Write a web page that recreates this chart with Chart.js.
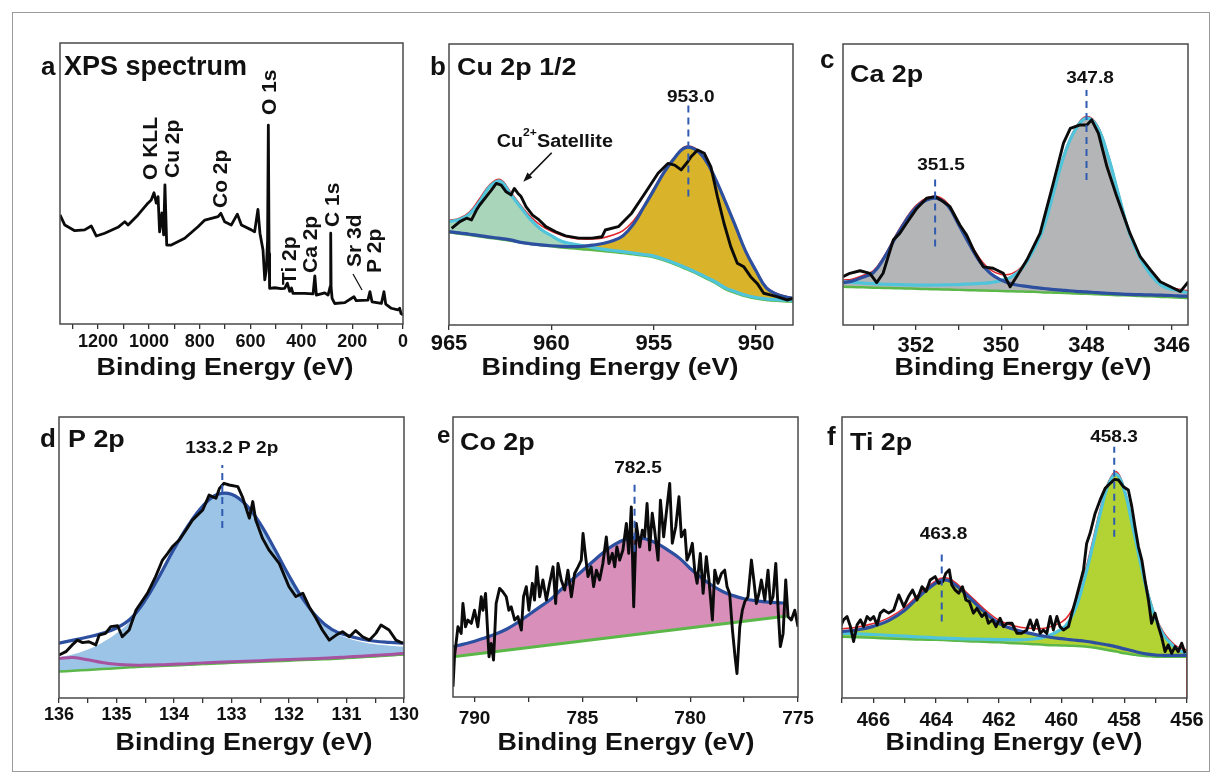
<!DOCTYPE html>
<html>
<head>
<meta charset="utf-8">
<script src="https://cdn.jsdelivr.net/npm/chart.js@4.4.0/dist/chart.umd.min.js"></script>
<style>
    body { margin: 0; background: #fff; width: 1221px; height: 783px; overflow: hidden; position: relative; }
    #frame { position: absolute; left: 12px; top: 12px; width: 1196px; height: 758px; border: 1px solid #9a9a9a; }
    canvas { position: absolute; }
</style>
</head>
<body>
<div id="frame"></div>
<canvas id="pa"></canvas>
<canvas id="pb"></canvas>
<canvas id="pc"></canvas>
<canvas id="pd"></canvas>
<canvas id="pe"></canvas>
<canvas id="pf"></canvas>
<script>
// ---- (a) survey spectrum: [binding energy, intensity] ----
const surveyRaw = [
    [1350,38.8],[1331,35.2],[1292,33.2],[1253,33.5],[1227,34.9],[1207,31.3],[1174,32.3],[1122,34.4],[1095,36.4],[1082,35.2],
    [1043,38.8],[1004,43.0],[991,44.1],[980,46.7],[971,43.0],[964,45.3],[958,32.8],[949,39.5],[942,31.7],[937,49.5],
    [930,28.1],[912,28.1],[859,30.5],[807,34.6],[780,37.0],[754,37.6],[728,38.2],[717,39.4],[702,36.4],[676,35.2],
    [652,39.1],[636,35.2],[597,33.5],[584,32.8],[571,40.8],[563,32.3],[551,26.3],[544,15.7],[538,19.2],[533,30.0],
    [530,70.8],[527,25.0],[525,12.7],[505,12.9],[480,12.6],[466,12.7],[455,14.5],[446,11.6],[439,12.8],[433,10.9],
    [387,10.9],[354,10.7],[347,17.1],[341,10.3],[308,11.1],[295,10.3],[286,13.5],[284.5,32.3],[283,13.0],[279,9.1],
    [269,7.3],[229,7.6],[193,9.7],[184,8.3],[138,8.5],[130,11.5],[122,7.9],[85,7.3],[75,11.5],[68,7.1],
    [46,5.6],[20,5.0],[13,5.6],[8,3.8],[0,3.2]
];

// ---- (b) Cu 2p 1/2 ----
const cuRaw = [
    [964.87,34.4],[964.47,36.8],[964.14,38.0],[963.90,37.4],[963.66,40.9],[963.50,42.7],[963.18,45.7],[962.93,48.0],[962.69,50.4],[962.45,49.8],
    [962.21,47.4],[961.97,46.3],[961.81,48.6],[961.64,46.9],[961.48,45.7],[961.24,42.1],[960.92,39.1],[960.60,37.4],[960.27,35.0],[959.79,33.2],
    [959.31,31.7],[958.66,30.9],[958.01,30.9],[957.53,31.4],[957.37,33.8],[956.73,35.0],[956.08,39.8],[955.43,46.9],[954.79,54.0],[954.31,57.5],
    [953.98,56.9],[953.66,55.2],[953.34,58.1],[953.18,59.9],[952.86,62.3],[952.53,61.1],[952.21,56.3],[951.89,45.7],[951.57,36.2],[951.24,27.9],
    [950.92,22.0],[950.60,20.7],[950.27,17.2],[949.95,14.8],[949.63,11.3],[949.31,10.7],[948.99,10.1],[948.50,8.9],[948.18,9.5]
];
const cuFitEnergy = [965,964.5,964,963.5,963,962.5,962,961.5,961,960.5,960,959.5,959,958.5,958,957.5,957,956.5,956,955.5,955,954.5,954,953.5,953,952.5,952,951.5,951,950.5,950,949.5,949,948.5,948.2];
const cuBackground = [33.0,32.5,32.0,31.5,31.0,30.5,30.0,29.4,28.8,28.4,28.0,27.6,27.3,27.0,26.7,26.3,26.0,25.6,25.2,24.7,24.1,23.0,21.7,20.2,18.6,16.8,15.0,12.8,11.4,10.2,9.4,8.9,8.6,8.4,8.3];
const cuSatellite = [36.8,37.5,39.5,44.0,49.3,51.2,46.6,41.9,37.4,34.0,31.8,29.8,28.9,28.3,27.6,27.0,26.5,26.1,25.6,25.1,24.5,23.4,22.1,20.6,19.0,17.2,15.4,13.2,11.8,10.6,9.8,9.3,9.0,8.8,8.7];
const cuMain = [33.2,32.8,32.3,31.8,31.3,30.8,30.3,29.4,28.9,28.5,28.2,28.0,27.9,28.0,28.4,29.0,30.0,31.8,35.8,41.8,48.0,54.3,59.3,63.0,62.6,59.0,52.2,43.8,35.0,26.0,19.2,13.2,11.0,9.9,9.5];
const cuEnvelope = [37.2,38.0,40.2,45.0,50.0,51.8,47.4,42.6,38.4,35.4,33.3,31.9,31.0,30.6,30.6,31.0,32.0,33.6,37.0,42.2,48.5,54.6,59.5,63.4,63.0,59.2,52.4,44.0,35.2,26.2,19.4,13.4,11.2,10.1,9.7];

// ---- (c) Ca 2p ----
const caRaw = [
    [353.71,17.2],[353.55,18.4],[353.31,19.3],[353.08,18.4],[352.92,15.1],[352.77,18.4],[352.53,30.3],[352.38,32.6],[352.22,36.2],[351.98,41.5],
    [351.75,45.1],[351.55,45.7],[351.36,43.9],[351.20,42.1],[350.97,35.6],[350.81,32.0],[350.65,26.7],[350.42,20.7],[350.19,20.2],[349.95,18.4],
    [349.79,13.6],[349.64,17.2],[349.40,23.1],[349.09,32.6],[348.78,50.4],[348.54,64.7],[348.38,70.0],[348.15,71.2],[347.99,71.2],[347.88,73.0],
    [347.72,68.2],[347.52,56.3],[347.29,45.7],[346.98,32.6],[346.74,24.3],[346.50,19.6],[346.27,15.4],[346.03,13.6],[345.80,11.9],[345.61,15.4]
];
const caFitEnergy = [353.7,353.5,353.25,353,352.75,352.5,352.25,352,351.75,351.5,351.25,351,350.75,350.5,350.25,350,349.75,349.5,349.25,349,348.75,348.5,348.25,348,347.75,347.5,347.25,347,346.75,346.5,346.25,346,345.75,345.6];
const caBackground = [13.6,13.5,13.4,13.3,13.2,13.1,13.0,12.9,12.8,12.7,12.6,12.5,12.4,12.3,12.2,12.1,12.0,11.9,11.8,11.6,11.5,11.4,11.2,11.1,10.9,10.8,10.6,10.5,10.3,10.2,10.0,9.9,9.7,9.6];
const caPeak1 = [15.1,15.6,17.0,18.6,23.8,30.5,36.8,41.8,44.5,45.0,42.4,35.8,28.8,22.5,18.3,16.0,14.6,13.9,13.4,13.0,12.6,12.3,12.0,11.8,11.5,11.3,11.1,10.9,10.8,10.7,10.6,10.5,10.3,10.2];
const caPeak2 = [15.4,15.2,14.9,14.7,14.5,14.4,14.3,14.2,14.2,14.2,14.3,14.4,14.6,14.8,15.1,15.8,17.2,20.4,26.5,35.0,48.5,61.5,69.8,73.6,70.6,60.4,46.5,33.0,24.0,18.0,14.2,12.7,11.9,11.5];
const caEnvelope = [16.0,16.3,17.6,19.3,24.4,31.2,37.5,42.5,45.2,45.7,43.2,36.6,29.8,23.6,19.6,18.0,18.3,21.0,27.0,35.5,49.0,62.0,70.4,74.2,71.2,61.0,47.0,33.5,24.5,18.5,14.8,13.3,12.5,12.1];

// ---- (d) P 2p ----
const pRaw = [
    [136.00,15.3],[135.88,16.5],[135.77,18.9],[135.68,20.6],[135.59,19.7],[135.48,20.0],[135.36,18.9],[135.30,22.4],[135.19,23.0],[135.10,25.4],
    [134.98,25.7],[134.90,21.8],[134.78,24.2],[134.66,31.3],[134.58,33.7],[134.46,37.3],[134.32,43.2],[134.20,49.1],[134.11,51.5],[134.03,53.8],
    [133.91,56.2],[133.79,59.8],[133.68,63.3],[133.50,66.9],[133.39,72.2],[133.27,71.1],[133.21,74.6],[133.13,76.4],[133.04,75.8],[132.89,75.2],
    [132.81,71.6],[132.69,64.0],[132.63,69.9],[132.58,63.4],[132.46,56.8],[132.35,52.7],[132.17,47.9],[132.00,39.6],[131.88,36.1],[131.76,37.3],
    [131.65,32.5],[131.53,28.4],[131.42,24.2],[131.30,20.6],[131.18,22.4],[131.07,23.6],[130.95,21.8],[130.84,24.0],[130.72,21.8],[130.60,20.6],
    [130.49,23.0],[130.40,26.0],[130.26,24.2],[130.14,20.6],[130.02,19.5]
];
const pFitEnergy = [136,135.75,135.5,135.25,135,134.75,134.5,134.25,134,133.75,133.5,133.25,133,132.75,132.5,132.25,132,131.75,131.5,131.25,131,130.75,130.5,130.25,130];
const pEnvelope = [19.5,20.6,21.7,23.0,24.9,28.3,34.8,43.5,53.0,61.5,68.3,72.4,72.5,68.8,62.0,53.0,43.5,35.0,28.5,24.3,22.3,21.0,20.2,19.8,19.5];
const pComponent = [14.5,15.6,17.3,19.7,23.0,27.6,34.6,43.5,53.0,61.5,68.3,72.4,72.5,68.8,62.0,53.0,43.5,35.0,28.2,23.8,21.4,20.0,19.1,18.6,18.3];
const pShirley = [14.1,14.4,13.6,12.6,12.0,11.7,11.7,11.8,12.0,12.2,12.5,12.7,12.9,13.1,13.3,13.5,13.7,13.9,14.1,14.3,14.6,14.9,15.2,15.5,15.9];
const pBaseline = [9.4,9.7,10.0,10.3,10.6,10.9,11.2,11.4,11.6,11.8,12.1,12.3,12.5,12.7,12.9,13.1,13.3,13.5,13.7,13.9,14.2,14.5,14.8,15.1,15.5];

// ---- (e) Co 2p ----
const coRaw = [
    [791.00,3.7],[790.93,14.4],[790.77,25.1],[790.62,22.7],[790.54,33.4],[790.42,25.1],[790.31,27.5],[790.15,26.3],[790.00,31.0],[789.85,25.1],
    [789.69,35.8],[789.61,31.0],[789.49,37.0],[789.33,14.4],[789.23,19.1],[789.12,13.2],[789.00,33.4],[788.84,38.8],[788.69,37.6],[788.53,35.8],
    [788.41,31.0],[788.30,32.2],[788.14,27.5],[787.99,28.7],[787.83,23.9],[787.73,35.8],[787.60,39.4],[787.48,31.0],[787.32,40.6],[787.22,34.6],
    [787.11,46.5],[786.98,35.8],[786.83,41.8],[786.67,34.6],[786.52,40.6],[786.36,46.5],[786.24,33.4],[786.13,47.7],[785.98,41.8],[785.82,38.2],
    [785.67,45.3],[785.51,35.8],[785.36,44.1],[785.20,46.5],[785.05,48.9],[784.97,58.4],[784.85,50.1],[784.74,43.0],[784.59,46.5],[784.48,39.4],
    [784.35,45.3],[784.20,41.8],[784.05,47.7],[783.89,57.2],[783.77,47.7],[783.61,51.3],[783.50,46.5],[783.40,53.6],[783.27,48.9],[783.12,52.5],
    [782.96,62.0],[782.85,51.3],[782.73,67.9],[782.62,32.2],[782.50,62.0],[782.34,53.6],[782.22,59.6],[782.11,57.2],[782.00,69.1],[781.88,52.5],
    [781.76,65.6],[781.65,59.6],[781.49,48.9],[781.38,70.3],[781.23,57.2],[781.11,65.6],[780.95,76.3],[780.83,54.9],[780.67,60.8],[780.52,71.5],
    [780.41,57.2],[780.25,59.6],[780.15,48.9],[780.02,51.3],[779.90,54.9],[779.79,45.3],[779.68,40.6],[779.53,51.3],[779.40,37.0],[779.25,50.1],
    [779.13,41.8],[778.97,27.5],[778.86,45.3],[778.71,40.6],[778.55,44.1],[778.40,45.3],[778.29,39.4],[778.17,37.0],[778.04,23.9],[777.92,14.4],
    [777.83,8.4],[777.70,25.1],[777.58,31.0],[777.47,34.0],[777.32,35.8],[777.16,48.9],[777.05,41.8],[776.93,33.4],[776.81,37.0],[776.70,41.8],
    [776.54,34.6],[776.39,45.3],[776.28,33.4],[776.16,35.8],[776.03,47.7],[775.92,31.0],[775.82,18.0],[775.69,22.7],[775.57,41.8],[775.46,28.7],
    [775.31,27.5],[775.15,31.0],[775.00,25.1]
];
const coFitEnergy = [791,790.5,790,789.5,789,788.5,788,787.5,787,786.5,786,785.5,785,784.5,784,783.5,783,782.5,782,781.5,781,780.5,780,779.5,779,778.5,778,777.5,777,776.5,776,775.5];
const coEnvelope = [18.0,18.9,19.9,21.2,22.6,24.3,26.6,29.3,32.0,34.7,38.3,41.8,45.1,48.5,51.8,54.5,56.3,57.0,56.3,54.7,52.3,49.6,45.9,42.7,39.9,37.7,36.2,35.1,34.4,34.0,33.7,33.5];
const coBgEnergy = [791, 775.5];
const coBackground = [14.4, 28.9];

// ---- (f) Ti 2p ----
const tiRaw = [
    [467.05,25.4],[466.95,27.8],[466.84,29.0],[466.73,25.4],[466.63,20.1],[466.52,26.0],[466.41,27.8],[466.31,25.4],[466.20,29.0],[466.10,27.8],
    [465.99,29.0],[465.88,26.0],[465.78,30.2],[465.67,31.3],[465.51,30.2],[465.35,31.3],[465.19,36.7],[465.03,32.5],[464.88,36.1],[464.75,38.4],
    [464.61,34.9],[464.45,39.6],[464.32,37.9],[464.19,42.0],[464.03,43.2],[463.92,40.8],[463.79,41.4],[463.69,44.4],[463.58,45.6],[463.50,40.2],
    [463.39,38.4],[463.28,37.3],[463.16,39.6],[463.05,34.9],[462.94,34.3],[462.81,30.2],[462.70,31.9],[462.54,29.0],[462.43,30.2],[462.33,26.6],
    [462.20,27.8],[462.09,25.4],[461.96,28.4],[461.85,25.4],[461.74,26.6],[461.58,26.6],[461.42,23.0],[461.27,23.0],[461.11,24.2],[461.00,27.8],
    [460.89,24.2],[460.79,27.8],[460.68,23.0],[460.58,24.2],[460.47,23.0],[460.36,29.0],[460.26,24.2],[460.15,29.0],[460.05,25.4],[459.94,24.2],
    [459.78,25.4],[459.67,30.2],[459.55,34.9],[459.44,39.6],[459.30,45.6],[459.20,55.0],[459.09,58.6],[458.93,65.7],[458.77,70.5],[458.61,74.6],
    [458.45,76.4],[458.31,77.8],[458.19,77.6],[458.03,75.2],[457.87,74.0],[457.76,68.1],[457.66,61.0],[457.55,53.9],[457.44,49.1],[457.34,42.0],
    [457.23,34.9],[457.13,26.6],[457.02,30.2],[456.91,25.4],[456.81,21.8],[456.70,16.5],[456.60,18.9],[456.49,15.9],[456.38,18.3],[456.28,16.5],
    [456.17,19.5],[456.06,15.9]
];
const tiFitEnergy = [467,466.5,466,465.5,465,464.5,464,463.75,463.5,463,462.5,462,461.5,461,460.5,460,459.75,459.5,459.25,459,458.75,458.5,458.25,458,457.75,457.5,457.25,457,456.75,456.5,456.25,456];
const tiBackground = [21.8,21.6,21.4,21.2,21.0,20.8,20.7,20.6,20.5,20.2,20.0,19.8,19.5,19.2,18.9,18.7,18.6,18.5,18.3,18.0,17.5,17.0,16.5,15.9,15.5,15.1,14.9,14.7,14.7,14.7,14.7,14.7];
const tiPeak1 = [23.6,24.3,25.5,27.6,31.2,36.5,41.0,42.0,41.2,36.4,31.0,26.6,24.4,23.0,21.9,21.1,20.8,20.5,20.2,19.8,19.3,18.8,18.2,17.5,16.8,16.1,15.6,15.3,15.2,15.2,15.2,15.2];
const tiPeak2 = [23.0,22.8,22.6,22.3,22.0,21.7,21.4,21.3,21.2,21.0,20.9,20.8,20.7,20.9,21.8,24.5,27.5,33.5,43.2,54.5,66.5,76.2,79.6,74.0,62.0,49.0,37.0,28.2,22.5,19.2,17.0,15.9];
const tiEnvEnergy = tiFitEnergy.concat([456]);
const tiEnvelope = [24.6,25.3,26.5,28.6,32.2,37.4,41.8,42.8,42.0,37.3,32.0,27.7,25.6,24.8,24.9,27.0,29.8,35.5,45.0,56.2,68.0,77.0,80.5,74.6,62.5,50.2,38.0,29.0,23.4,20.0,17.8,16.6,0];

// ---- styling ----
const FONT = '"Liberation Sans", Arial, Helvetica, sans-serif';
const BLACK = '#0b0b0b', NAVY = '#2c4f9f', CYAN = '#4fc4da', RED = '#e3262b', GREEN = '#5bb848', MAGENTA = '#a7529f', DASH = '#2f5bb0';
const M = { l: 50, t: 40, r: 28, b: 70 };

const toPts = (xs, ys) => xs.map((x, i) => ({ x, y: ys[i] }));
const fromPairs = arr => arr.map(p => ({ x: p[0], y: p[1] }));

function line(data, color, width, extra) {
    return Object.assign({
        data, borderColor: color, borderWidth: width, pointRadius: 0,
        tension: 0, fill: false, borderJoinStyle: 'round'
    }, extra || {});
}
function marker(x, y0, y1) {
    return line([{ x, y: y0 }, { x, y: y1 }], DASH, 2, { borderDash: [7, 5], order: -1 });
}
function isMajor(v, major) {
    return Math.abs(v / major - Math.round(v / major)) < 1e-6;
}

function drawText(ctx, off, it) {
    ctx.save();
    ctx.translate(it.x - off.x, it.y - off.y);
    if (it.rot) ctx.rotate(-Math.PI / 2);
    ctx.scale(it.sx || 1, 1);
    ctx.font = 'bold ' + it.size + 'px ' + FONT;
    ctx.textAlign = it.align || 'left';
    ctx.textBaseline = it.base || 'alphabetic';
    ctx.fillStyle = '#111';
    ctx.fillText(it.t, 0, 0);
    ctx.restore();
}

function buildPanel(p) {
    const cv = document.getElementById(p.id);
    const [l, t, r, b] = p.box;
    const W = r - l + M.l + M.r, H = b - t + M.t + M.b;
    cv.width = W; cv.height = H;
    cv.style.left = (l - M.l) + 'px';
    cv.style.top = (t - M.t) + 'px';
    cv.style.width = W + 'px';
    cv.style.height = H + 'px';
    const off = { x: l - M.l, y: t - M.t };

    return new Chart(cv, {
        type: 'line',
        data: { datasets: p.datasets },
        options: {
            responsive: false,
            animation: false,
            devicePixelRatio: 1,
            layout: { padding: { left: M.l, top: M.t, right: M.r, bottom: 0 } },
            plugins: {
                legend: { display: false },
                tooltip: { enabled: false },
                filler: { drawTime: 'beforeDatasetsDraw' }
            },
            scales: {
                x: {
                    type: 'linear',
                    reverse: true,
                    min: p.min,
                    max: p.max,
                    afterFit: s => { s.height = M.b; s.paddingLeft = 0; s.paddingRight = 0; },
                    border: { display: false },
                    grid: { drawOnChartArea: false, drawTicks: true, tickLength: 5, color: '#333', lineWidth: 1.3 },
                    ticks: {
                        stepSize: p.step,
                        includeBounds: false,
                        autoSkip: false,
                        maxRotation: 0,
                        minRotation: 0,
                        padding: p.pad,
                        color: '#111',
                        font: { family: FONT, size: p.tickSize, weight: 'bold' },
                        callback: v => isMajor(v, p.major) ? String(Math.round(v)) : ''
                    }
                },
                y: { display: false, min: 0, max: 100 }
            }
        },
        plugins: [{
            id: 'deco',
            afterDraw(chart) {
                const ctx = chart.ctx;
                const a = chart.chartArea;
                ctx.save();
                ctx.strokeStyle = '#4a4a4a';
                ctx.lineWidth = 1.5;
                ctx.strokeRect(a.left, a.top, a.right - a.left, a.bottom - a.top);
                ctx.restore();
                p.texts.forEach(it => drawText(ctx, off, it));
                if (p.extra) p.extra(ctx, off);
            }
        }]
    });
}

const AX = 'Binding Energy (eV)';

buildPanel({
    id: 'pa', box: [60, 43, 403, 324], min: 0, max: 1350, step: 100, major: 200, tickSize: 18, pad: 2,
    datasets: [line(fromPairs(surveyRaw), BLACK, 2.8, { order: 0 })],
    texts: [
        { t: 'a', x: 41, y: 75, size: 26 },
        { t: 'XPS spectrum', x: 64, y: 75, size: 27 },
        { t: 'O KLL', x: 151.7, y: 180, size: 21, rot: true, base: 'middle' },
        { t: 'Cu 2p', x: 173, y: 178, size: 21, rot: true, base: 'middle' },
        { t: 'Co 2p', x: 221.7, y: 208, size: 21, rot: true, base: 'middle' },
        { t: 'O 1s', x: 270, y: 115, size: 21, rot: true, base: 'middle' },
        { t: 'Ti 2p', x: 290, y: 285, size: 21, rot: true, base: 'middle' },
        { t: 'Ca 2p', x: 311.7, y: 273, size: 21, rot: true, base: 'middle' },
        { t: 'C 1s', x: 333, y: 227, size: 21, rot: true, base: 'middle' },
        { t: 'Sr 3d', x: 355, y: 267, size: 21, rot: true, base: 'middle' },
        { t: 'P 2p', x: 375, y: 273, size: 21, rot: true, base: 'middle' },
        { t: AX, x: 225, y: 375, size: 24, align: 'center', sx: 1.12 }
    ],
    extra(ctx, off) {
        ctx.save();
        ctx.strokeStyle = '#111';
        ctx.lineWidth = 1.3;
        ctx.beginPath();
        ctx.moveTo(353 - off.x, 274 - off.y);
        ctx.lineTo(362 - off.x, 290 - off.y);
        ctx.stroke();
        ctx.restore();
    }
});

buildPanel({
    id: 'pb', box: [449, 44, 793, 325], min: 948.2, max: 965, step: 5, major: 5, tickSize: 22, pad: 1,
    datasets: [
        line(fromPairs(cuRaw), BLACK, 2.9, { order: 0 }),
        line(toPts(cuFitEnergy, cuBackground), GREEN, 2.5, { order: 5, tension: 0.4 }),
        line(toPts(cuFitEnergy, cuSatellite), CYAN, 3.2, { order: 3, tension: 0.4, fill: 1, backgroundColor: '#a9d6bb' }),
        line(toPts(cuFitEnergy, cuMain), NAVY, 3.2, { order: 2, tension: 0.4, fill: 1, backgroundColor: '#d9b42a' }),
        line(toPts(cuFitEnergy, cuEnvelope), RED, 1.5, { order: 4, tension: 0.4 }),
        marker(953.31, 45.7, 78.3)
    ],
    texts: [
        { t: 'b', x: 430, y: 75, size: 26 },
        { t: 'Cu 2p 1/2', x: 457, y: 75, size: 24, sx: 1.12 },
        { t: '953.0', x: 690.7, y: 102, size: 17, align: 'center', sx: 1.12 },
        { t: 'Cu', x: 496.7, y: 147, size: 18, sx: 1.1 },
        { t: '2+', x: 523, y: 136, size: 11, sx: 1.1 },
        { t: 'Satellite', x: 537, y: 147, size: 18, sx: 1.1 },
        { t: AX, x: 610, y: 375, size: 24, align: 'center', sx: 1.12 }
    ],
    extra(ctx, off) {
        const x0 = 551.7 - off.x, y0 = 152.7 - off.y, x1 = 523.3 - off.x, y1 = 181.7 - off.y;
        const ang = Math.atan2(y1 - y0, x1 - x0);
        ctx.save();
        ctx.strokeStyle = '#111';
        ctx.fillStyle = '#111';
        ctx.lineWidth = 1.6;
        ctx.beginPath();
        ctx.moveTo(x0, y0);
        ctx.lineTo(x1 - 6 * Math.cos(ang), y1 - 6 * Math.sin(ang));
        ctx.stroke();
        ctx.beginPath();
        ctx.moveTo(x1, y1);
        ctx.lineTo(x1 - 10 * Math.cos(ang - 0.35), y1 - 10 * Math.sin(ang - 0.35));
        ctx.lineTo(x1 - 10 * Math.cos(ang + 0.35), y1 - 10 * Math.sin(ang + 0.35));
        ctx.closePath();
        ctx.fill();
        ctx.restore();
    }
});

buildPanel({
    id: 'pc', box: [843, 44, 1188, 325], min: 345.62, max: 353.71, step: 1, major: 2, tickSize: 22, pad: 3,
    datasets: [
        line(fromPairs(caRaw), BLACK, 2.9, { order: 0 }),
        line(toPts(caFitEnergy, caBackground), GREEN, 2.5, { order: 5, tension: 0.4 }),
        line(toPts(caFitEnergy, caPeak1), NAVY, 3.2, { order: 2, tension: 0.4, fill: 1, backgroundColor: '#b4b5b7' }),
        line(toPts(caFitEnergy, caPeak2), CYAN, 3.2, { order: 3, tension: 0.4, fill: 1, backgroundColor: '#b4b5b7' }),
        line(toPts(caFitEnergy, caEnvelope), RED, 1.5, { order: 4, tension: 0.4 }),
        marker(351.55, 27.9, 53.4),
        marker(348.0, 51.6, 83.6)
    ],
    texts: [
        { t: 'c', x: 820, y: 68, size: 26 },
        { t: 'Ca 2p', x: 850, y: 82, size: 24, sx: 1.12 },
        { t: '347.8', x: 1090, y: 83, size: 17, align: 'center', sx: 1.12 },
        { t: '351.5', x: 941, y: 170, size: 17, align: 'center', sx: 1.12 },
        { t: AX, x: 1023, y: 375, size: 24, align: 'center', sx: 1.12 }
    ]
});

buildPanel({
    id: 'pd', box: [59, 417, 404, 698], min: 130, max: 136, step: 0.5, major: 1, tickSize: 18, pad: 1,
    datasets: [
        line(fromPairs(pRaw), BLACK, 2.9, { order: 0 }),
        line(toPts(pFitEnergy, pBaseline), GREEN, 2.5, { order: 5, tension: 0.4 }),
        line(toPts(pFitEnergy, pComponent), 'rgba(0,0,0,0)', 0, { order: 6, tension: 0.4, fill: 1, backgroundColor: '#9cc4e7' }),
        line(toPts(pFitEnergy, pShirley), MAGENTA, 3, { order: 4, tension: 0.4 }),
        line(toPts(pFitEnergy, pEnvelope), NAVY, 3.2, { order: 2, tension: 0.4 }),
        marker(133.16, 60.5, 82.9)
    ],
    texts: [
        { t: 'd', x: 40, y: 447, size: 26 },
        { t: 'P 2p', x: 68, y: 447, size: 24, sx: 1.12 },
        { t: '133.2 P 2p', x: 231.7, y: 453, size: 17, align: 'center', sx: 1.12 },
        { t: AX, x: 244, y: 750, size: 24, align: 'center', sx: 1.12 }
    ]
});

buildPanel({
    id: 'pe', box: [453, 417, 798, 697], min: 775, max: 791, step: 2.5, major: 5, tickSize: 19, pad: 5,
    datasets: [
        line(fromPairs(coRaw), BLACK, 2.9, { order: 0 }),
        line(toPts(coBgEnergy, coBackground), GREEN, 3, { order: 5 }),
        line(toPts(coFitEnergy, coEnvelope), NAVY, 3.2, { order: 2, tension: 0.4, fill: 1, backgroundColor: '#d890bb' }),
        marker(782.58, 51.9, 76.9)
    ],
    texts: [
        { t: 'e', x: 437, y: 443, size: 24 },
        { t: 'Co 2p', x: 460, y: 450, size: 24, sx: 1.12 },
        { t: '782.5', x: 638, y: 473, size: 17, align: 'center', sx: 1.12 },
        { t: AX, x: 626, y: 750, size: 24, align: 'center', sx: 1.12 }
    ]
});

buildPanel({
    id: 'pf', box: [842, 417, 1187, 698], min: 456, max: 467, step: 1, major: 2, tickSize: 20, pad: 5,
    datasets: [
        line(fromPairs(tiRaw), BLACK, 2.9, { order: 0 }),
        line(toPts(tiFitEnergy, tiBackground), GREEN, 2.5, { order: 5, tension: 0.4 }),
        line(toPts(tiFitEnergy, tiPeak1), NAVY, 3.2, { order: 2, tension: 0.4, fill: 1, backgroundColor: '#b3d335' }),
        line(toPts(tiFitEnergy, tiPeak2), CYAN, 3.2, { order: 3, tension: 0.4, fill: 1, backgroundColor: '#b3d335' }),
        line(toPts(tiEnvEnergy, tiEnvelope), RED, 1.5, { order: 4, tension: 0.4 }),
        marker(463.82, 27.2, 52.1),
        marker(458.32, 57.4, 89.4)
    ],
    texts: [
        { t: 'f', x: 827, y: 445, size: 26 },
        { t: 'Ti 2p', x: 850, y: 450, size: 24, sx: 1.12 },
        { t: '458.3', x: 1114, y: 442, size: 17, align: 'center', sx: 1.12 },
        { t: '463.8', x: 943.5, y: 539, size: 17, align: 'center', sx: 1.12 },
        { t: AX, x: 1014, y: 750, size: 24, align: 'center', sx: 1.12 }
    ]
});
</script>
</body>
</html>
